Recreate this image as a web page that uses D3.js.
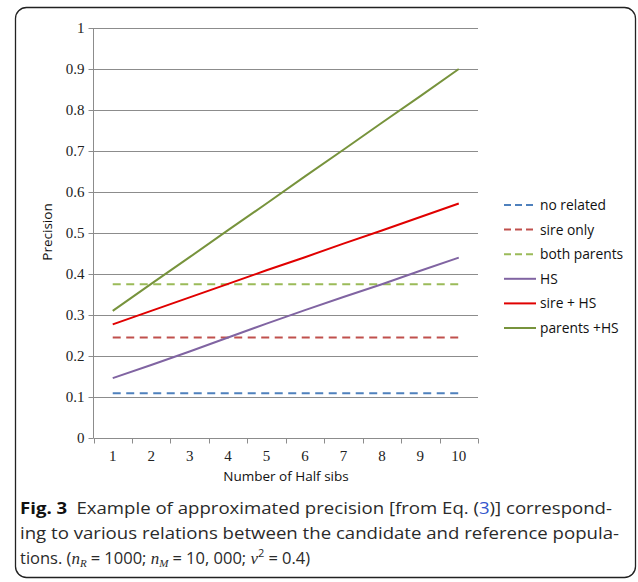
<!DOCTYPE html>
<html><head><meta charset="utf-8">
<script src="https://cdn.jsdelivr.net/npm/d3@7"></script>
<style>body{margin:0;background:#fff}svg{display:block}</style>
</head><body>
<svg id="chart" width="638" height="582"></svg>
<script>
const categories = [1,2,3,4,5,6,7,8,9,10];
const yTicks = [0,0.1,0.2,0.3,0.4,0.5,0.6,0.7,0.8,0.9,1];
const noRelated   = [0.109,0.109,0.109,0.109,0.109,0.109,0.109,0.109,0.109,0.109];
const sireOnly    = [0.245,0.245,0.245,0.245,0.245,0.245,0.245,0.245,0.245,0.245];
const bothParents = [0.375,0.375,0.375,0.375,0.375,0.375,0.375,0.375,0.375,0.375];
const hs          = [0.146,0.178,0.211,0.245,0.279,0.312,0.344,0.375,0.408,0.440];
const sireHS      = [0.277,0.310,0.343,0.376,0.409,0.441,0.474,0.506,0.539,0.572];
const parentsHS   = [0.310,0.376,0.441,0.507,0.572,0.638,0.703,0.769,0.834,0.900];
const seriesNames = ["no related","sire only","both parents","HS","sire + HS","parents +HS"];
const seriesValues = [noRelated,sireOnly,bothParents,hs,sireHS,parentsHS];
const seriesColors = ["#4f81bd","#c0504d","#9bbb59","#8064a2","#e00000","#77933c"];
const seriesDashed = [true,true,true,false,false,false];

const svg = d3.select("#chart");
// frame
svg.append("rect").attr("x",15.5).attr("y",7.5).attr("width",620).attr("height",570)
  .attr("rx",11).attr("fill","none").attr("stroke","#222").attr("stroke-width",1.3);

const L=93.5, R=478, T=28, B=438;
const x = d3.scaleBand().domain(categories).range([L,R]).padding(0);
const y = d3.scaleLinear().domain([0,1]).range([B,T]);

// gridlines
svg.append("g").selectAll("line").data(yTicks.filter(d=>d>0)).join("line")
  .attr("x1",L).attr("x2",R).attr("y1",d=>Math.round(y(d))+0.5).attr("y2",d=>Math.round(y(d))+0.5)
  .attr("stroke","#8c8c8c").attr("stroke-width",1);

// y axis
const yAxis = d3.axisLeft(y).tickValues(yTicks).tickSize(5).tickPadding(4).tickFormat(d=>d===0?"0":d===1?"1":d3.format(".1f")(d));
const gy = svg.append("g").attr("transform",`translate(${L},0)`).call(yAxis);
gy.select(".domain").attr("stroke","#8c8c8c").attr("d",`M-0,${B}V${T}`);
gy.selectAll(".tick line").attr("stroke","#8c8c8c");
gy.selectAll(".tick").attr("transform",d=>`translate(0,${Math.round(y(d))+0.5})`);
gy.selectAll("text").attr("font-family","'Liberation Serif', 'DejaVu Serif', serif").attr("font-size",15).attr("fill","#222");

// x axis
const xAxis = d3.axisBottom(x).tickSize(0).tickPadding(12);
const gx = svg.append("g").attr("transform",`translate(0,${B+0.5})`).call(xAxis);
gx.select(".domain").attr("stroke","#8c8c8c").attr("d",`M${L},0H${R}`);
gx.selectAll("text").attr("font-family","'Liberation Serif', 'DejaVu Serif', serif").attr("font-size",15).attr("fill","#222");
// boundary ticks
const bounds = categories.map(c=>x(c)).concat([R]);
gx.append("g").selectAll("line").data(bounds).join("line")
  .attr("x1",d=>Math.round(d)+0.5).attr("x2",d=>Math.round(d)+0.5).attr("y1",0).attr("y2",5)
  .attr("stroke","#8c8c8c");

// axis titles
svg.append("text").attr("x",286).attr("y",481).attr("text-anchor","middle")
  .attr("font-family","'Open Sans', 'Noto Sans', sans-serif").attr("font-size",13.5).attr("fill","#111")
  .text("Number of Half sibs");
svg.append("text").attr("transform","translate(52,232) rotate(-90)").attr("text-anchor","middle")
  .attr("font-family","'Open Sans', 'Noto Sans', sans-serif").attr("font-size",13.5).attr("fill","#111")
  .text("Precision");

// lines
const line = d3.line().x((d,i)=>x(categories[i])+x.bandwidth()/2).y(d=>y(d));
seriesValues.forEach((vals,k)=>{
  svg.append("path").datum(vals).attr("d",line).attr("fill","none")
    .attr("stroke",seriesColors[k]).attr("stroke-width",2)
    .attr("stroke-dasharray",seriesDashed[k]?"8,5.5":null);
});

// legend
const lg = svg.append("g");
seriesNames.forEach((n,k)=>{
  const yy = 205 + k*24.6;
  lg.append("line").attr("x1",504).attr("x2",536).attr("y1",yy).attr("y2",yy)
    .attr("stroke",seriesColors[k]).attr("stroke-width",2)
    .attr("stroke-dasharray",seriesDashed[k]?"7,4":null);
  lg.append("text").attr("x",540).attr("y",yy+5)
    .attr("font-family","'Open Sans', 'Noto Sans', sans-serif").attr("font-size",13.8).attr("fill","#111")
    .text(n);
});

// caption
const cap = svg.append("g").attr("font-family","'Open Sans', 'Noto Sans', sans-serif").attr("font-size",16.5).attr("fill","#2a2a2a");
const t1 = cap.append("text").attr("x",20).attr("y",514).attr("textLength",592).attr("lengthAdjust","spacingAndGlyphs");
t1.append("tspan").attr("font-weight","bold").attr("fill","#111").text("Fig. 3");
t1.append("tspan").text("\u2002Example of approximated precision [from Eq. (");
t1.append("tspan").attr("fill","#3355cc").text("3");
t1.append("tspan").text(")] correspond-");
cap.append("text").attr("x",20).attr("y",539).attr("textLength",599).attr("lengthAdjust","spacingAndGlyphs")
  .text("ing to various relations between the candidate and reference popula-");
const t3 = cap.append("text").attr("x",20).attr("y",564);
t3.append("tspan").text("tions. (");
t3.append("tspan").attr("font-style","italic").attr("font-family","'Liberation Serif', serif").attr("font-size",17).text("n");
t3.append("tspan").attr("font-style","italic").attr("font-family","'Liberation Serif', serif").attr("font-size",11).attr("dy",3).text("R");
t3.append("tspan").attr("dy",-3).text("\u2005=\u20051000; ");
t3.append("tspan").attr("font-style","italic").attr("font-family","'Liberation Serif', serif").attr("font-size",17).text("n");
t3.append("tspan").attr("font-style","italic").attr("font-family","'Liberation Serif', serif").attr("font-size",11).attr("dy",3).text("M");
t3.append("tspan").attr("dy",-3).text("\u2005=\u200510, 000; ");
t3.append("tspan").attr("font-style","italic").attr("font-family","'Liberation Serif', serif").attr("font-size",17).text("\u03bd");
t3.append("tspan").attr("font-size",11).attr("dy",-7).text("2");
t3.append("tspan").attr("dy",7).text("\u2005=\u20050.4)");
</script>
</body></html>
